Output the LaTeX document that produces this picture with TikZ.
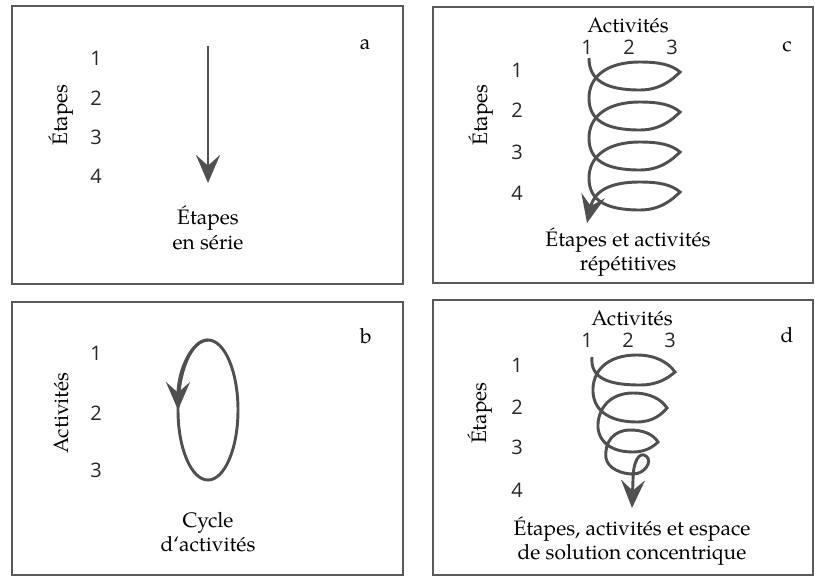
\documentclass[tikz,border=0pt]{standalone}
\usepackage{fontspec}
\setmainfont{TeX Gyre Pagella}
\newfontfamily\chiffres{Open Sans}
\usetikzlibrary{arrows.meta}
\definecolor{trait}{HTML}{505050}
\definecolor{cadre}{HTML}{5A5A5A}
\tikzset{
  panneau/.style={draw=cadre,line width=1.8pt},
  courbe/.style={draw=trait,line width=2.2pt},
  chiffre/.style={font=\chiffres\fontsize{15}{18}\selectfont,text=black!85},
  legende/.style={font=\fontsize{15.7}{18.5}\selectfont,align=center},
  lettre/.style={font=\fontsize{15.7}{18.5}\selectfont},
  axe/.style={font=\fontsize{15.7}{18.5}\selectfont,rotate=90},
}

\begin{document}
\begin{tikzpicture}[x=0.75pt,y=-0.75pt,>={Stealth[length=21pt,width=18pt,inset=8pt]}]
  \useasboundingbox (0,0) rectangle (815,576);
  % cadres
  \draw[panneau] (12,6) rectangle (403,284);
  \draw[panneau] (433,7) rectangle (813,283);
  \draw[panneau] (12,302) rectangle (403,575);
  \draw[panneau] (433,300) rectangle (813,575);
  % a : étapes en série
  \foreach \n/\y in {1/58,2/98,3/137,4/176} \node[chiffre] (a\n) at (96,\y) {\n};
  \node[axe] (aetapes) at (61,115) {Étapes};
  \node[lettre] (alettre) at (365,45) {a};
  \coordinate (ahaut) at (208,46);
  \coordinate (abas) at (208,183);
  \draw[courbe,->] (ahaut) -- (abas);
  \node[legende] (alegende) at (208,228) {Étapes\\en série};
  % b : cycle d'activités
  \foreach \n/\y in {1/353,2/413,3/470} \node[chiffre] (b\n) at (96,\y) {\n};
  \node[axe] (bactivites) at (61,413) {Activités};
  \node[lettre] (blettre) at (366,336) {b};
  \coordinate (bcentre) at (208,410);
  \draw[courbe] (bcentre) ellipse [x radius=30, y radius=70];
  \draw[courbe,->] (bcentre) ++(0,-70) arc[start angle=270, end angle=180, x radius=30, y radius=70];
  \node[legende] (blegende) at (208,532) {Cycle\\d‘activités};
  % c : hélice régulière, 4 boucles en lentille
  \foreach \n/\y in {1/70,2/110,3/152,4/193} \node[chiffre] (c\n) at (517,\y) {\n};
  \node[axe] (cetapes) at (481,115) {Étapes};
  \node[legende] (cactivites) at (628,25) {Activités};
  \foreach \n/\x in {1/587,2/629,3/672} \node[chiffre] (ca\n) at (\x,47) {\n};
  \node[lettre] (clettre) at (787,47) {c};
  \coordinate (cdebut) at (589,58);
  \coordinate (cfin) at (587,223);
  \draw[courbe,->] (cdebut)
    \foreach \k in {0,1,2} {
      .. controls (589,80+40*\k) and (605,90+40*\k) .. (640,90+40*\k)
      .. controls (660,90+40*\k) and (672,80+40*\k) .. (680,72+40*\k)
      .. controls (672,65+40*\k) and (660,62+40*\k) .. (640,62+40*\k)
      .. controls (605,62+40*\k) and (589,78+40*\k) .. (589,98+40*\k)
    }
    .. controls (589,200) and (605,210) .. (640,210)
    .. controls (660,210) and (672,200) .. (680,192)
    .. controls (672,185) and (660,182) .. (640,182)
    .. controls (608,182) and (594,192) .. (cfin);
  \node[legende] (clegende) at (628,252) {Étapes et activités\\répétitives};
  % d : hélice qui se resserre
  \foreach \n/\y in {1/365,2/407,3/447,4/490} \node[chiffre] (d\n) at (517,\y) {\n};
  \node[axe] (detapes) at (480,413) {Étapes};
  \node[legende] (dactivites) at (632,318) {Activités};
  \foreach \n/\x in {1/587,2/628,3/670} \node[chiffre] (da\n) at (\x,340) {\n};
  \node[lettre] (dlettre) at (787,335) {d};
  \coordinate (ddebut) at (592,357);
  \coordinate (dfin) at (632,508);
  \draw[courbe,->] (ddebut)
    .. controls (590,378) and (608,385) .. (640,385) .. controls (658,385) and (668,378) .. (675,372)
    .. controls (668,362) and (655,355) .. (637,355) .. controls (606,355) and (592,372) .. (593,392)
    .. controls (594,411) and (610,422) .. (637,422) .. controls (653,422) and (662,414) .. (667,408)
    .. controls (661,399) and (650,393) .. (633,393) .. controls (609,393) and (597,410) .. (598,428)
    .. controls (600,445) and (615,452) .. (633,452) .. controls (645,452) and (653,447) .. (658,442)
    .. controls (653,434) and (643,430) .. (630,430) .. controls (614,430) and (604,442) .. (606,458)
    .. controls (608,469) and (622,474) .. (633,474) .. controls (645,474) and (653,461) .. (646,456)
    .. controls (639,451) and (633,462) .. (633,480) -- (dfin);
  \node[legende] (dlegende) at (632,541) {Étapes, activités et espace\\de solution concentrique};
\end{tikzpicture}
\end{document}
